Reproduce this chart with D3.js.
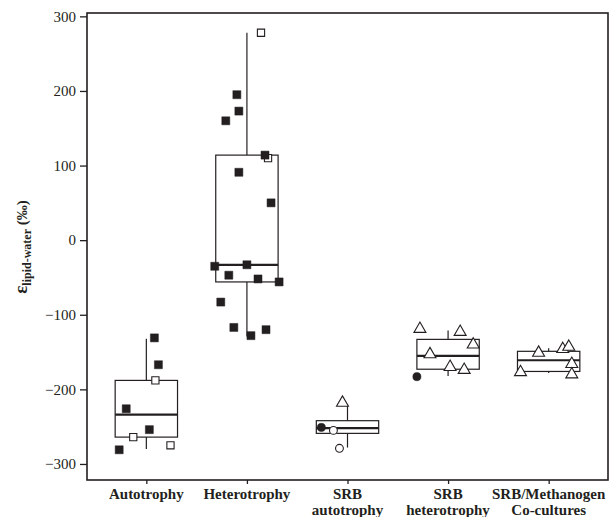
<!DOCTYPE html>
<meta charset="utf-8">
<head>
  <script src="https://cdn.jsdelivr.net/npm/d3@7"></script>
</head>
<style>
  body { margin: 0; background: white; }
  text { font-family: "Liberation Serif", "Times New Roman", serif; fill: #231f20; }
</style>
<body>
<div id="chart"></div>
<script>
// categories and their two-line labels
var categories = ["Autotrophy", "Heterotrophy", "SRB autotrophy", "SRB heterotrophy", "SRB/Methanogen Co-cultures"];
var catLines = [["Autotrophy"], ["Heterotrophy"], ["SRB", "autotrophy"], ["SRB", "heterotrophy"], ["SRB/Methanogen", "Co-cultures"]];

// box statistics: [whisker low, q1, median, q3, whisker high]
var boxLow    = [-280, -129, -278, -182, -178];
var boxQ1     = [-264, -56, -259, -173, -176];
var boxMedian = [-234, -33, -252, -155, -161];
var boxQ3     = [-188, 114, -242, -133, -149];
var boxHigh   = [-132, 278, -220, -121, -145];

// individual measurements: [category index, jitter offset, value]
var filledSquares = [
  [0, 0.08, -131], [0, 0.12, -167], [0, -0.20, -226], [0, 0.03, -254], [0, -0.27, -281],
  [1, -0.10, 195], [1, -0.08, 173], [1, -0.21, 160], [1, 0.18, 114], [1, -0.08, 91],
  [1, 0.24, 50], [1, -0.32, -35], [1, 0.00, -33], [1, -0.18, -47], [1, 0.11, -52],
  [1, 0.32, -56], [1, -0.26, -83], [1, -0.13, -117], [1, 0.04, -128], [1, 0.19, -120]
];
var openSquares = [
  [0, 0.09, -188], [0, -0.13, -264], [0, 0.24, -275],
  [1, 0.14, 278], [1, 0.21, 110]
];
var openTriangles = [
  [2, -0.05, -218],
  [3, -0.28, -119], [3, 0.12, -123], [3, 0.25, -140], [3, -0.18, -153], [3, 0.02, -170], [3, 0.16, -174],
  [4, -0.10, -151], [4, 0.14, -146], [4, 0.20, -143], [4, -0.28, -177], [4, 0.23, -166], [4, 0.23, -180]
];
var openCircles = [[2, -0.14, -255], [2, -0.08, -279]];
var filledCircles = [[2, -0.26, -251], [3, -0.31, -183]];

var yTicks = [-300, -200, -100, 0, 100, 200, 300];

var width = 610, height = 517;
var margin = {top: 13, right: 2, bottom: 37, left: 87};
var ink = "#231f20";

var svg = d3.select("#chart").append("svg")
  .attr("width", width)
  .attr("height", height);

var x = d3.scalePoint()
  .domain(d3.range(categories.length))
  .range([margin.left, width - margin.right])
  .padding(0.59);
var step = x.step();

var y = d3.scaleLinear()
  .domain([-321.5, 304.5])
  .range([height - margin.bottom, margin.top]);

// frame
svg.append("rect")
  .attr("x", margin.left)
  .attr("y", margin.top)
  .attr("width", width - margin.right - margin.left)
  .attr("height", height - margin.bottom - margin.top)
  .attr("fill", "none")
  .attr("stroke", ink)
  .attr("stroke-width", 1.6);

// y axis
var yAxis = svg.append("g")
  .attr("transform", "translate(" + margin.left + ",0)")
  .call(d3.axisLeft(y).tickValues(yTicks).tickSize(7).tickPadding(4).tickFormat(function(d) { return d < 0 ? "\u2212" + (-d) : d; }));
yAxis.select(".domain").remove();
yAxis.selectAll("line").attr("stroke", ink).attr("stroke-width", 1.3);
yAxis.selectAll("text").style("font-family", "'Liberation Serif', serif").style("font-size", "15px").attr("fill", ink);

// x axis
var xAxis = svg.append("g")
  .attr("transform", "translate(0," + (height - margin.bottom) + ")")
  .call(d3.axisBottom(x).tickSize(4).tickFormat(""));
xAxis.select(".domain").remove();
xAxis.selectAll("line").attr("stroke", ink).attr("stroke-width", 1.3);

var labels = svg.append("g").selectAll("text")
  .data(catLines)
  .enter().append("text")
  .attr("x", function(d, i) { return x(i); })
  .attr("y", height - margin.bottom + 19)
  .attr("text-anchor", "middle")
  .style("font-weight", "bold")
  .style("font-size", "15px");
labels.selectAll("tspan")
  .data(function(d) { return d; })
  .enter().append("tspan")
  .attr("x", function() { return d3.select(this.parentNode).attr("x"); })
  .attr("dy", function(d, i) { return i ? 16 : 0; })
  .text(function(d) { return d; });

// y axis title
var yt = svg.append("text")
  .attr("transform", "translate(27," + 247 + ") rotate(-90)")
  .attr("text-anchor", "middle")
  .style("font-weight", "bold");
yt.append("tspan").style("font-size", "19px").text("\u03b5");
yt.append("tspan").style("font-size", "12px").attr("dy", 4).text("lipid-water");
yt.append("tspan").style("font-size", "15px").attr("dy", -4).text(" (\u2030)");

// boxes
var bw = 0.62 * step;
var boxes = svg.append("g").selectAll("g")
  .data(categories)
  .enter().append("g");

boxes.append("line")
  .attr("x1", function(d, i) { return x(i); })
  .attr("x2", function(d, i) { return x(i); })
  .attr("y1", function(d, i) { return y(boxHigh[i]); })
  .attr("y2", function(d, i) { return y(boxQ3[i]); })
  .attr("stroke", ink).attr("stroke-width", 1.2);
boxes.append("line")
  .attr("x1", function(d, i) { return x(i); })
  .attr("x2", function(d, i) { return x(i); })
  .attr("y1", function(d, i) { return y(boxQ1[i]); })
  .attr("y2", function(d, i) { return y(boxLow[i]); })
  .attr("stroke", ink).attr("stroke-width", 1.2);
boxes.append("rect")
  .attr("x", function(d, i) { return x(i) - bw / 2; })
  .attr("width", bw)
  .attr("y", function(d, i) { return y(boxQ3[i]); })
  .attr("height", function(d, i) { return y(boxQ1[i]) - y(boxQ3[i]); })
  .attr("fill", "none")
  .attr("stroke", ink).attr("stroke-width", 1.2);
boxes.append("line")
  .attr("x1", function(d, i) { return x(i) - bw / 2; })
  .attr("x2", function(d, i) { return x(i) + bw / 2; })
  .attr("y1", function(d, i) { return y(boxMedian[i]); })
  .attr("y2", function(d, i) { return y(boxMedian[i]); })
  .attr("stroke", ink).attr("stroke-width", 2.2);

// points
function px(d) { return x(d[0]) + d[1] * step; }
function drawPoints(data, type, size, fill) {
  svg.append("g").selectAll("path")
    .data(data)
    .enter().append("path")
    .attr("transform", function(d) { return "translate(" + px(d) + "," + y(d[2]) + ")"; })
    .attr("d", d3.symbol().type(type).size(size))
    .attr("fill", fill ? ink : "white")
    .attr("stroke", ink)
    .attr("stroke-width", fill ? 0.5 : 1.1);
}
drawPoints(openSquares, d3.symbolSquare, 52, false);
drawPoints(filledSquares, d3.symbolSquare, 64, true);
drawPoints(openTriangles, d3.symbolTriangle, 62, false);
drawPoints(openCircles, d3.symbolCircle, 48, false);
drawPoints(filledCircles, d3.symbolCircle, 52, true);
</script>
</body>
